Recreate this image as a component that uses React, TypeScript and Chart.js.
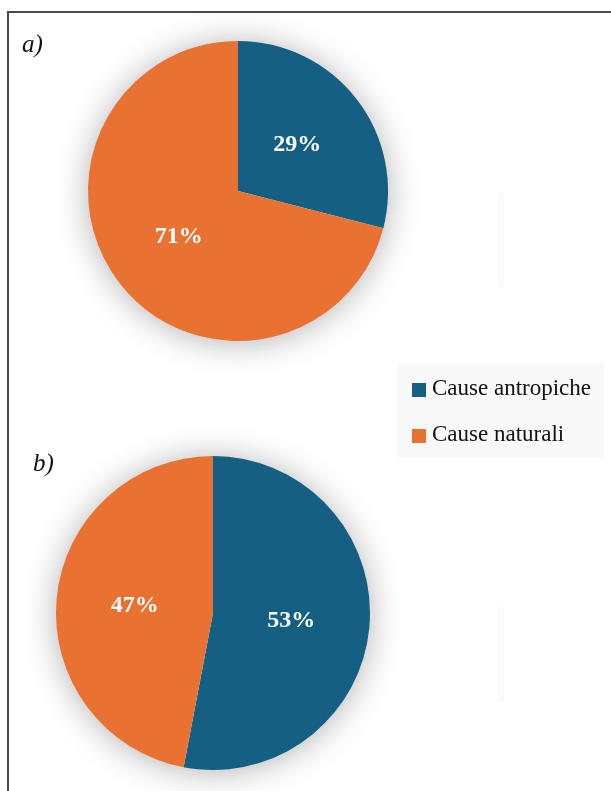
import React, { useEffect, useRef } from "react";
import { Chart, registerables } from "chart.js";

Chart.register(...registerables);

const categories = ["Cause antropiche", "Cause naturali"];
const colors = ["#156082", "#E97132"];
const valuesA = [29, 71];
const valuesB = [53, 47];
const panelLabels = ["a)", "b)"];

const FONT = "'Liberation Serif', 'DejaVu Serif', serif";

const shadowPlugin = {
  id: "pieShadow",
  beforeDatasetsDraw(chart: any) {
    const meta = chart.getDatasetMeta(0);
    const arc = meta.data[0];
    if (!arc) return;
    const { x, y, outerRadius } = arc.getProps(["x", "y", "outerRadius"], true);
    const ctx = chart.ctx;
    ctx.save();
    ctx.shadowColor = "rgba(0,0,0,0.32)";
    ctx.shadowBlur = 34;
    ctx.shadowOffsetX = 0;
    ctx.shadowOffsetY = 2;
    ctx.fillStyle = "#ffffff";
    ctx.beginPath();
    ctx.arc(x, y, outerRadius - 1, 0, Math.PI * 2);
    ctx.fill();
    ctx.restore();
  },
};

const labelPlugin = {
  id: "pieLabels",
  afterDatasetsDraw(chart: any) {
    const ctx = chart.ctx;
    const ds = chart.data.datasets[0];
    const total = ds.data.reduce((a: number, b: number) => a + b, 0);
    const meta = chart.getDatasetMeta(0);
    meta.data.forEach((arc: any, i: number) => {
      const { x, y, startAngle, endAngle, outerRadius } = arc.getProps(
        ["x", "y", "startAngle", "endAngle", "outerRadius"],
        true
      );
      const mid = (startAngle + endAngle) / 2;
      const r = outerRadius * 0.5;
      const px = x + Math.cos(mid) * r;
      const py = y + Math.sin(mid) * r;
      ctx.save();
      ctx.fillStyle = "#ffffff";
      ctx.font = `bold 24px ${FONT}`;
      ctx.textAlign = "center";
      ctx.textBaseline = "middle";
      ctx.fillText(`${Math.round((ds.data[i] / total) * 100)}%`, px, py);
      ctx.restore();
    });
  },
};

function PieCanvas({ values, radius, left, top, size }: any) {
  const ref = useRef<HTMLCanvasElement>(null);
  useEffect(() => {
    if (!ref.current) return;
    const chart = new Chart(ref.current, {
      type: "pie",
      data: {
        labels: categories,
        datasets: [
          {
            data: values,
            backgroundColor: colors,
            borderWidth: 0,
            radius: radius,
          },
        ],
      },
      options: {
        animation: false,
        responsive: false,
        maintainAspectRatio: false,
        layout: { padding: 0 },
        plugins: {
          legend: { display: false },
          tooltip: { enabled: false },
        },
      },
      plugins: [shadowPlugin, labelPlugin],
    });
    return () => chart.destroy();
  }, []);
  return (
    <canvas
      ref={ref}
      width={size}
      height={size}
      style={{ position: "absolute", left, top, width: size, height: size }}
    />
  );
}

export default function App() {
  return (
    <div
      style={{
        position: "absolute",
        left: 0,
        top: 0,
        width: 611,
        height: 791,
        overflow: "hidden",
        background: "#ffffff",
      }}
    >
      <div style={{ position: "absolute", left: 498, top: 193, width: 6, height: 94, background: "#fafafa" }} />
      <div style={{ position: "absolute", left: 498, top: 607, width: 6, height: 95, background: "#fafafa" }} />
      <PieCanvas values={valuesA} radius={150} left={18} top={-29} size={440} />
      <PieCanvas values={valuesB} radius={157} left={-7} top={393} size={440} />
      <div
        style={{
          position: "absolute",
          left: 7,
          top: 11,
          width: 640,
          height: 820,
          border: "2px solid #4a4a4a",
          boxSizing: "border-box",
          pointerEvents: "none",
        }}
      />
      <div
        style={{
          position: "absolute",
          left: 22,
          top: 30,
          fontFamily: FONT,
          fontStyle: "italic",
          fontSize: 25,
          color: "#111",
        }}
      >
        {panelLabels[0]}
      </div>
      <div
        style={{
          position: "absolute",
          left: 33,
          top: 449,
          fontFamily: FONT,
          fontStyle: "italic",
          fontSize: 25,
          color: "#111",
        }}
      >
        {panelLabels[1]}
      </div>
      <div
        style={{
          position: "absolute",
          left: 397,
          top: 363,
          width: 207,
          height: 94,
          background: "#f8f8f8",
        }}
      >
        {categories.map((c, i) => (
          <div
            key={c}
            style={{
              position: "absolute",
              left: 15,
              top: 10 + i * 46,
              display: "flex",
              alignItems: "center",
              fontFamily: FONT,
              fontSize: 23,
              color: "#111",
              whiteSpace: "nowrap",
              lineHeight: "30px",
            }}
          >
            <span
              style={{
                display: "inline-block",
                width: 14,
                height: 14,
                background: colors[i],
                marginRight: 6,
                marginTop: 3,
              }}
            />
            {c}
          </div>
        ))}
      </div>
    </div>
  );
}
